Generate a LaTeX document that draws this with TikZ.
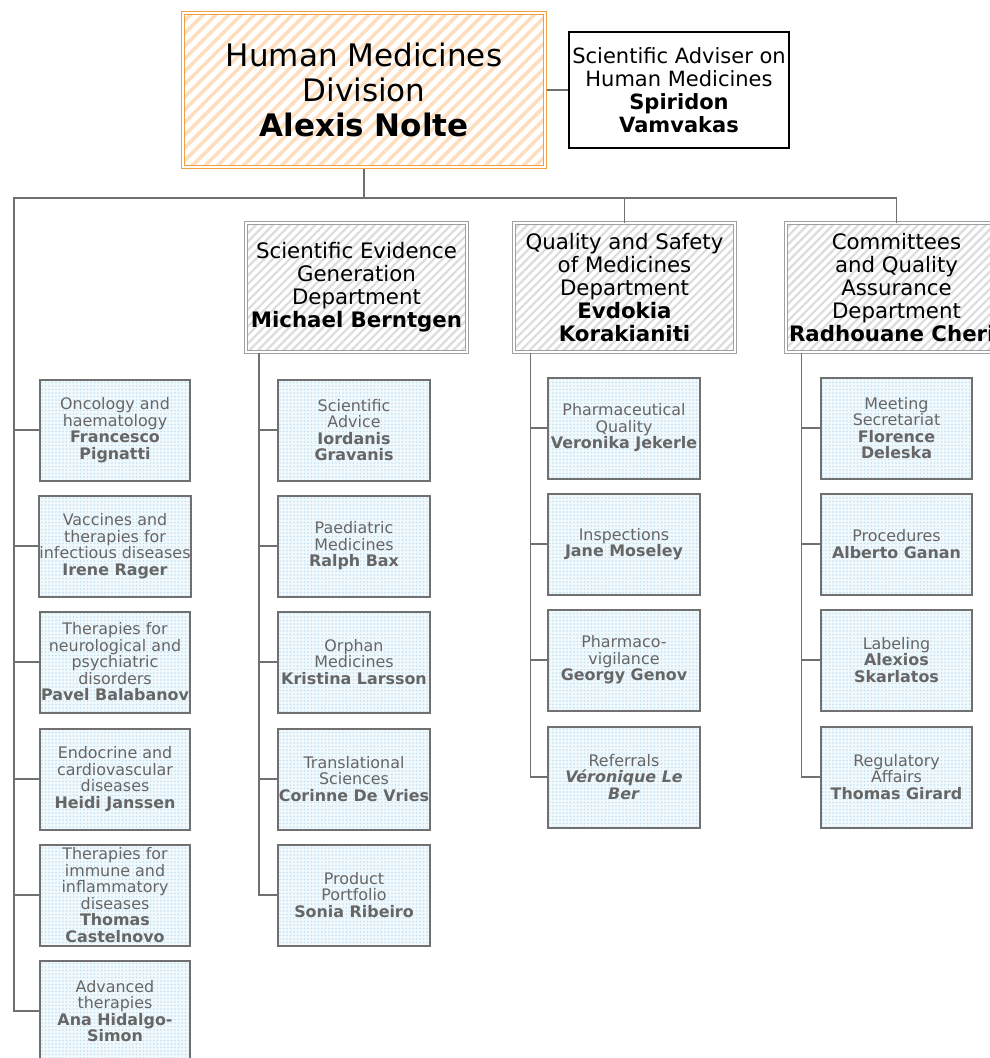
\documentclass[tikz,border=0pt]{standalone}
\usepackage{fontspec}
\setmainfont{DejaVu Sans}
\usetikzlibrary{patterns.meta}
\definecolor{orbord}{HTML}{F0A040}
\definecolor{orstripe}{HTML}{FDDFC0}
\definecolor{grbord}{HTML}{A0A0A0}
\definecolor{grstripe}{HTML}{DCDCDC}
\definecolor{leafbord}{HTML}{707070}
\definecolor{leafdot}{HTML}{BEE0F2}
\definecolor{leafbg}{HTML}{F2F9FC}
\definecolor{leaftext}{HTML}{666666}
\definecolor{connc}{HTML}{707070}
\tikzset{
  topbox/.style={draw=orbord, double=white, double distance=1.6pt, line width=1pt,
    preaction={fill=white}, pattern={Lines[angle=45,distance=9pt,line width=3.6pt]}, pattern color=orstripe,
    minimum width=362pt, minimum height=154pt, inner sep=0pt, align=center,
    font=\fontsize{31}{35}\selectfont},
  advbox/.style={draw=black, line width=2pt, fill=white, minimum width=220pt, minimum height=116pt,
    inner sep=0pt, align=center, font=\fontsize{21}{23}\selectfont},
  deptbox/.style={draw=grbord, double=white, double distance=1.2pt, line width=1pt,
    preaction={fill=white}, pattern={Lines[angle=45,distance=6pt,line width=2.2pt]}, pattern color=grstripe,
    minimum width=221pt, minimum height=129pt, inner sep=0pt, align=center,
    font=\fontsize{21.3}{23}\selectfont},
  leafbox/.style={draw=leafbord, line width=2pt, preaction={fill=leafbg},
    pattern={Dots[distance=3.5pt,radius=0.9pt]}, pattern color=leafdot,
    minimum width=150pt, minimum height=101pt, inner sep=0pt, align=center,
    text=leaftext, font=\fontsize{15.9}{16.5}\selectfont},
  conn/.style={draw=connc, line width=1.5pt}
}
\begin{document}
\begin{tikzpicture}[x=1pt,y=-1pt]
\useasboundingbox (0,0) rectangle (990,1058);
% top
\node[topbox] (top) at (364,90) {Human Medicines\\Division\\\textbf{Alexis Nolte}};
\node[advbox] (adv) at (679,90) {Scientific Adviser on\\Human Medicines\\\textbf{Spiridon}\\\textbf{Vamvakas}};
\draw[conn] (top.east) -- (adv.west);
% departments
\node[deptbox] (d2) at (356.5,287.5) {Scientific Evidence\\Generation\\Department\\\textbf{Michael Berntgen}};
\node[deptbox] (d3) at (624.5,287.5) {Quality and Safety\\of Medicines\\Department\\\textbf{Evdokia}\\\textbf{Korakianiti}};
\node[deptbox] (d4) at (896.5,287.5) {Committees\\and Quality\\Assurance\\Department\\\textbf{Radhouane Cherif}};
% column 1
\node[leafbox] (l11) at (115,430) {Oncology and\\haematology\\\textbf{Francesco}\\\textbf{Pignatti}};
\node[leafbox] (l12) at (115,546) {Vaccines and\\therapies for\\infectious diseases\\\textbf{Irene Rager}};
\node[leafbox] (l13) at (115,662) {Therapies for\\neurological and\\psychiatric\\disorders\\\textbf{Pavel Balabanov}};
\node[leafbox] (l14) at (115,779) {Endocrine and\\cardiovascular\\diseases\\\textbf{Heidi Janssen}};
\node[leafbox] (l15) at (115,895) {Therapies for\\immune and\\inflammatory\\diseases\\\textbf{Thomas}\\\textbf{Castelnovo}};
\node[leafbox] (l16) at (115,1011) {Advanced\\therapies\\\textbf{Ana Hidalgo-}\\\textbf{Simon}};
% column 2
\node[leafbox, minimum width=152pt] (l21) at (354,430) {Scientific\\Advice\\\textbf{Iordanis}\\\textbf{Gravanis}};
\node[leafbox, minimum width=152pt] (l22) at (354,546) {Paediatric\\Medicines\\\textbf{Ralph Bax}};
\node[leafbox, minimum width=152pt] (l23) at (354,662) {Orphan\\Medicines\\\textbf{Kristina Larsson}};
\node[leafbox, minimum width=152pt] (l24) at (354,779) {Translational\\Sciences\\\textbf{Corinne De Vries}};
\node[leafbox, minimum width=152pt] (l25) at (354,895) {Product\\Portfolio\\\textbf{Sonia Ribeiro}};
% column 3
\node[leafbox, minimum width=152pt] (l31) at (624,428) {Pharmaceutical\\Quality\\\textbf{Veronika Jekerle}};
\node[leafbox, minimum width=152pt] (l32) at (624,544) {Inspections\\\textbf{Jane Moseley}};
\node[leafbox, minimum width=152pt] (l33) at (624,660) {Pharmaco-\\vigilance\\\textbf{Georgy Genov}};
\node[leafbox, minimum width=152pt] (l34) at (624,777) {Referrals\\\textbf{\textit{Véronique Le}}\\\textbf{\textit{Ber}}};
% column 4
\node[leafbox, minimum width=151pt] (l41) at (896.5,428) {Meeting\\Secretariat\\\textbf{Florence}\\\textbf{Deleska}};
\node[leafbox, minimum width=151pt] (l42) at (896.5,544) {Procedures\\\textbf{Alberto Ganan}};
\node[leafbox, minimum width=151pt] (l43) at (896.5,660) {Labeling\\\textbf{Alexios}\\\textbf{Skarlatos}};
\node[leafbox, minimum width=151pt] (l44) at (896.5,777) {Regulatory\\Affairs\\\textbf{Thomas Girard}};
% connectors
\coordinate (bar) at (364,198);
\coordinate (s1) at (14,198);
\draw[conn] (top.south) -- (bar);
\draw[conn] (l16.west) -| (s1) -- (s1 -| d4.north) -- (d4.north);
\draw[conn] (s1 -| d3.north) -- (d3.north);
\foreach \i in {1,...,5} \draw[conn] (s1 |- l1\i.west) -- (l1\i.west);
\coordinate (s2) at ([xshift=14pt]d2.south west);
\coordinate (s3) at ([xshift=17pt]d3.south west);
\coordinate (s4) at ([xshift=16pt]d4.south west);
\draw[conn] (s2) |- (l25.west);
\foreach \i in {1,...,4} \draw[conn] (s2 |- l2\i.west) -- (l2\i.west);
\draw[conn] (s3) |- (l34.west);
\foreach \i in {1,...,3} \draw[conn] (s3 |- l3\i.west) -- (l3\i.west);
\draw[conn] (s4) |- (l44.west);
\foreach \i in {1,...,3} \draw[conn] (s4 |- l4\i.west) -- (l4\i.west);
\end{tikzpicture}
\end{document}
